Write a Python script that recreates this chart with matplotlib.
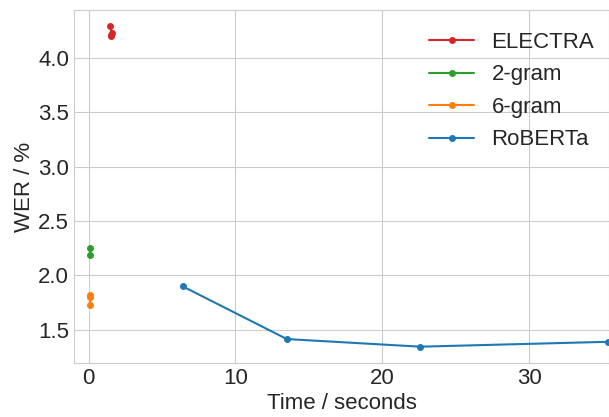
import matplotlib
matplotlib.use("Agg")
import matplotlib.pyplot as plt
import seaborn as sns

# WER against decoding time for each rescoring model
electra_time = [1.43, 1.59, 1.55, 1.52]
electra_wer = [4.29, 4.23, 4.21, 4.20]
bigram_time = [0.07, 0.07]
bigram_wer = [2.25, 2.19]
sixgram_time = [0.07, 0.07, 0.07]
sixgram_wer = [1.82, 1.80, 1.73]
roberta_time = [6.4, 13.5, 22.6, 35.4]
roberta_wer = [1.90, 1.415, 1.345, 1.39]

sns.set_style("whitegrid")
plt.rcParams["font.family"] = ["Liberation Sans", "DejaVu Sans"]

fig = plt.figure(figsize=(6.09, 4.17), dpi=100)
ax = fig.add_axes([0.1215, 0.1295, 0.8785, 0.8465])

ax.plot(electra_time, electra_wer, marker="o", markersize=4, color="tab:red", label="ELECTRA")
ax.plot(bigram_time, bigram_wer, marker="o", markersize=4, color="tab:green", label="2-gram")
ax.plot(sixgram_time, sixgram_wer, marker="o", markersize=4, color="tab:orange", label="6-gram")
ax.plot(roberta_time, roberta_wer, marker="o", markersize=4, color="tab:blue", label="RoBERTa")

ax.set_xlim(-1.0, 35.45)
ax.set_ylim(1.195, 4.44)
ax.set_xticks([0, 10, 20, 30])
ax.set_yticks([1.5, 2.0, 2.5, 3.0, 3.5, 4.0])
ax.tick_params(labelsize=16, length=0)
ax.set_xlabel("Time / seconds", fontsize=16, labelpad=3)
ax.set_ylabel("WER / %", fontsize=16, labelpad=2)
ax.legend(loc="upper right", bbox_to_anchor=(1.01, 0.995), fontsize=16,
          frameon=False, labelspacing=0.52)

fig.savefig("out.png", dpi=100)
